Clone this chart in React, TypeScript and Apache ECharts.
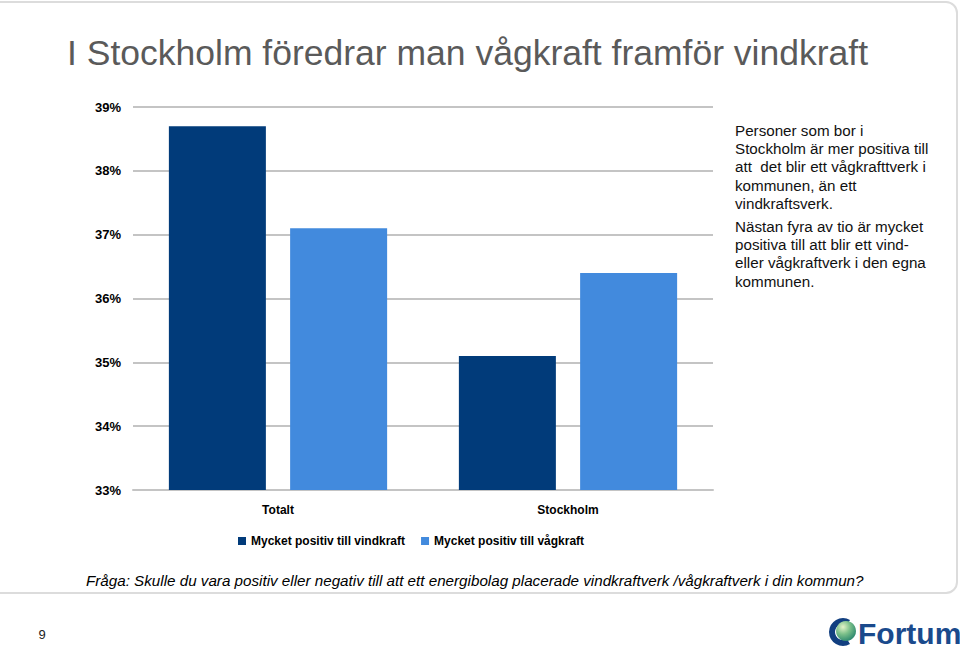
import React, { useEffect, useRef } from "react";
import * as echarts from "echarts";

const categories = ["Totalt", "Stockholm"];
const seriesNames = ["Mycket positiv till vindkraft", "Mycket positiv till vågkraft"];
const vindkraft = [38.7, 35.1];
const vagkraft = [37.1, 36.4];
const yMin = 33;
const yMax = 39;
const yStep = 1;

const titleText = "I Stockholm föredrar man vågkraft framför vindkraft";
const note1 = [
  "Personer som bor i",
  "Stockholm är mer positiva till",
  "att  det blir ett vågkrafttverk i",
  "kommunen, än ett",
  "vindkraftsverk.",
];
const note2 = [
  "Nästan fyra av tio är mycket",
  "positiva till att blir ett vind-",
  "eller vågkraftverk i den egna",
  "kommunen.",
];
const footerText =
  "Fråga: Skulle du vara positiv eller negativ till att ett energibolag placerade vindkraftverk /vågkraftverk i din kommun?";
const pageNumber = "9";
const logoText = "Fortum";

const FONT = "'Liberation Sans', Arial, sans-serif";

export default function App() {
  const ref = useRef<HTMLDivElement>(null);
  useEffect(() => {
    document.body.style.margin = "0";
    const chart = echarts.init(ref.current!, undefined, { renderer: "svg" });
    const option: any = {
      animation: false,
      backgroundColor: "#ffffff",
      title: {
        text: titleText,
        left: 62,
        top: 30,
        textStyle: { fontFamily: FONT, fontSize: 35.5, fontWeight: "normal", color: "#5a5a5a" },
      },
      legend: {
        left: 238,
        top: 535,
        padding: 0,
        icon: "rect",
        itemWidth: 8,
        itemHeight: 8,
        itemGap: 16,
        data: seriesNames,
        textStyle: { fontFamily: FONT, fontSize: 12, fontWeight: "bold", color: "#000" },
      },
      grid: { left: 133, right: 247, top: 107, bottom: 160, containLabel: false },
      xAxis: {
        type: "category",
        data: categories,
        axisTick: { show: false },
        axisLine: { lineStyle: { color: "#c4c4c4", width: 2 } },
        axisLabel: {
          margin: 14,
          fontFamily: FONT,
          fontSize: 12,
          fontWeight: "bold",
          color: "#000",
        },
      },
      yAxis: {
        type: "value",
        min: yMin,
        max: yMax,
        interval: yStep,
        axisLine: { show: false },
        axisTick: { show: false },
        splitLine: { lineStyle: { color: "#c4c4c4", width: 2 } },
        axisLabel: {
          margin: 12,
          formatter: "{value}%",
          fontFamily: FONT,
          fontSize: 13,
          fontWeight: "bold",
          color: "#000",
        },
      },
      series: [
        {
          name: seriesNames[0],
          type: "bar",
          data: vindkraft,
          barWidth: 97,
          barGap: "25%",
          itemStyle: { color: "#013b7a" },
        },
        {
          name: seriesNames[1],
          type: "bar",
          data: vagkraft,
          barWidth: 97,
          barGap: "25%",
          itemStyle: { color: "#428add" },
        },
      ],
      graphic: [
        {
          type: "rect",
          silent: true,
          shape: { x: -20, y: 2, width: 977, height: 591, r: 11 },
          style: { fill: "none", stroke: "#dcdcdc", lineWidth: 2 },
        },
        {
          type: "text",
          left: 735,
          top: 121,
          style: {
            text: note1.join("\n"),
            font: `15.2px ${FONT}`,
            lineHeight: 18.3,
            fill: "#111",
          },
        },
        {
          type: "text",
          left: 735,
          top: 217,
          style: {
            text: note2.join("\n"),
            font: `15.2px ${FONT}`,
            lineHeight: 18.3,
            fill: "#111",
          },
        },
        {
          type: "text",
          x: 86,
          y: 580,
          style: {
            text: footerText,
            font: `italic 15.2px ${FONT}`,
            fill: "#000",
            textVerticalAlign: "middle",
          },
        },
        {
          type: "text",
          x: 42,
          y: 634,
          style: {
            text: pageNumber,
            font: `13px ${FONT}`,
            fill: "#222",
            textAlign: "center",
            textVerticalAlign: "middle",
          },
        },
        {
          type: "sector",
          silent: true,
          shape: {
            cx: 843,
            cy: 632,
            r0: 8,
            r: 14,
            startAngle: Math.PI / 3,
            endAngle: (5 * Math.PI) / 3,
            clockwise: true,
          },
          style: { fill: "#123f80" },
        },
        {
          type: "circle",
          silent: true,
          shape: { cx: 846, cy: 631, r: 10 },
          style: {
            fill: new echarts.graphic.RadialGradient(0.35, 0.3, 0.8, [
              { offset: 0, color: "#e4f3c8" },
              { offset: 0.45, color: "#7cc08a" },
              { offset: 1, color: "#1f7f6a" },
            ]),
          },
        },
        {
          type: "text",
          x: 858,
          y: 633,
          style: {
            text: logoText,
            font: `bold 30px ${FONT}`,
            fill: "#1a4a8c",
            textVerticalAlign: "middle",
          },
        },
      ],
    };
    chart.setOption(option);
    return () => chart.dispose();
  }, []);
  return <div ref={ref} style={{ width: 960, height: 650 }} />;
}
